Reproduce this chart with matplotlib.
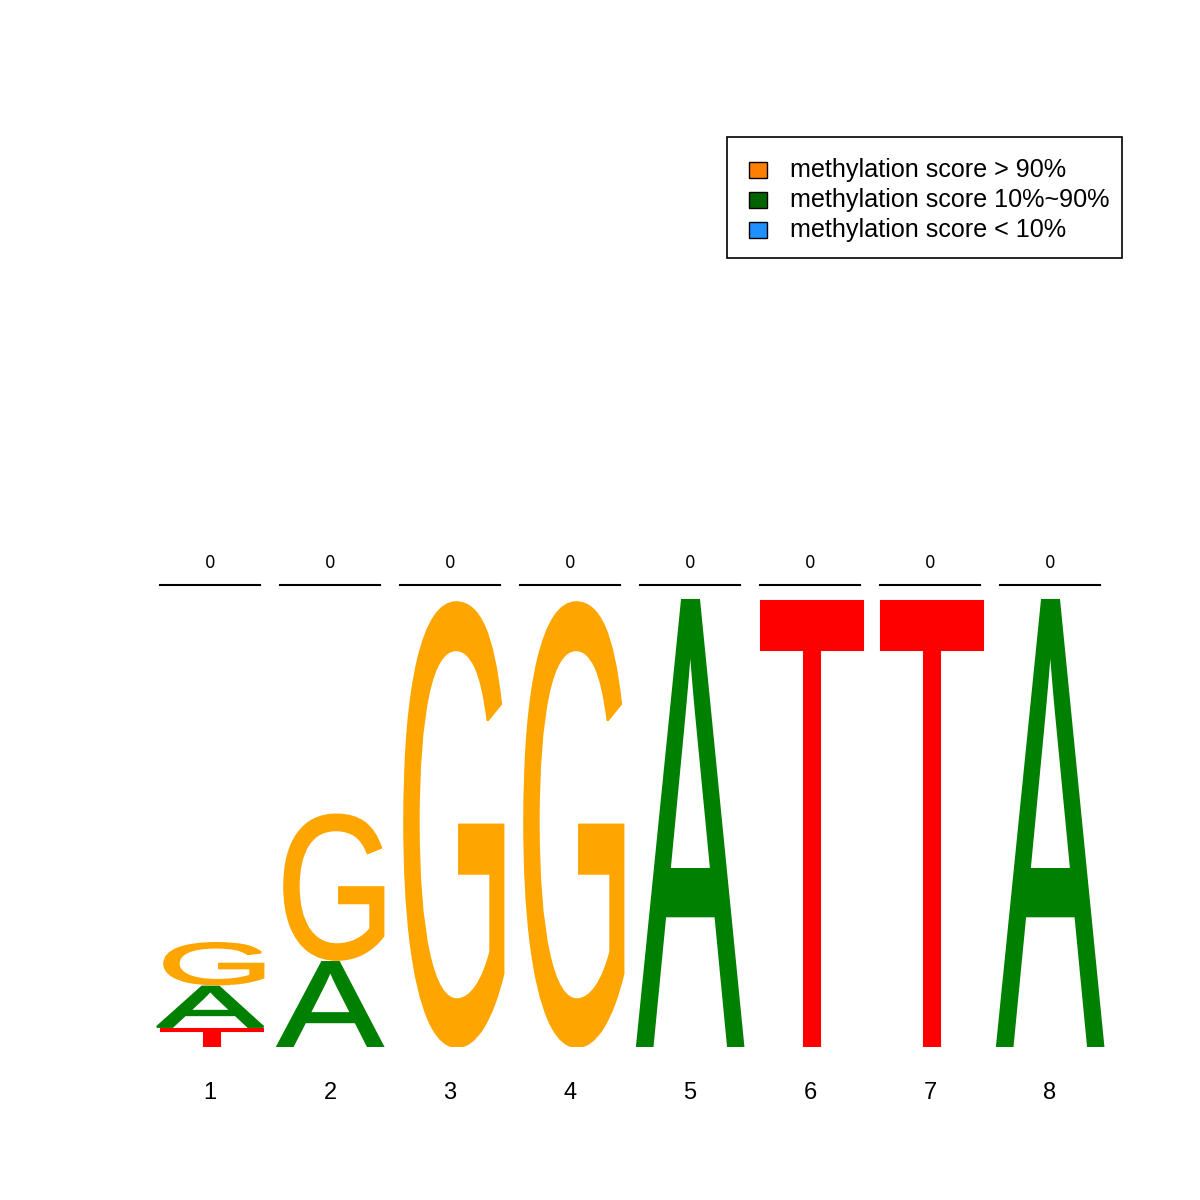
import matplotlib
matplotlib.use("Agg")
import matplotlib.pyplot as plt
from matplotlib.textpath import TextPath
from matplotlib.patches import PathPatch, Rectangle
from matplotlib.font_manager import FontProperties
from matplotlib.transforms import Affine2D

positions = [1, 2, 3, 4, 5, 6, 7, 8]
# stacks bottom -> top: (letter, height in bits)
stacks = [
    [("T", 0.08), ("A", 0.18), ("G", 0.185)],
    [("A", 0.38), ("G", 0.65)],
    [("G", 1.99)],
    [("G", 1.99)],
    [("A", 2.0)],
    [("T", 1.995)],
    [("T", 1.995)],
    [("A", 2.0)],
]
top_labels = ["0", "0", "0", "0", "0", "0", "0", "0"]
letter_colors = {"A": "#008000", "G": "#FFA500", "T": "#FF0000", "C": "#0000FF"}
legend_labels = ["methylation score > 90%", "methylation score 10%~90%", "methylation score < 10%"]
legend_colors = ["#FF7F00", "#006400", "#1E90FF"]

plt.rcParams["font.family"] = ["Liberation Sans", "DejaVu Sans"]

fig = plt.figure(figsize=(12, 12), dpi=100)
W = H = 1200.0
px_per_bit = 223.5
y0_px = 1047.0
top_px = 100.0
ax = fig.add_axes([150 / W, 1 - y0_px / H, 960 / W, (y0_px - top_px) / H])
ax.set_xlim(0.5, 8.5)
ax.set_ylim(0, (y0_px - top_px) / px_per_bit)
ax.axis("off")

fp = FontProperties(family="Liberation Sans", weight="normal")

def draw_letter(ch, x, y, w, h, color):
    tp = TextPath((0, 0), ch, size=1, prop=fp)
    verts = tp.vertices
    xmin, ymin = verts.min(axis=0)
    xmax, ymax = verts.max(axis=0)
    tr = Affine2D().translate(-xmin, -ymin).scale(w / (xmax - xmin), h / (ymax - ymin)).translate(x, y)
    path = tr.transform_path(tp)
    ax.add_patch(PathPatch(path, facecolor=color, edgecolor=color, lw=1.5, joinstyle="miter"))

lw_units = 0.89
for i, (pos, stack) in enumerate(zip(positions, stacks)):
    y = 0.0
    for j, (ch, h) in enumerate(stack):
        draw_letter(ch, pos - lw_units / 2, y, lw_units, h, letter_colors[ch])
        y += h + (0.01 if len(stack) > 1 else 0)
    ybar = (y0_px - 585) / px_per_bit
    ax.plot([pos - 0.42, pos + 0.42], [ybar, ybar], color="black", lw=1.5, clip_on=False)
    ax.text(pos, (y0_px - 563) / px_per_bit, top_labels[i], ha="center", va="center",
            fontsize=12, family="DejaVu Sans")
    ax.text(pos, -(1093 - y0_px) / px_per_bit, str(pos), ha="center", va="center", fontsize=17)

# legend drawn in figure pixel coordinates
fig.add_artist(Rectangle((727 / W, 1 - 258 / H), (1122 - 727) / W, (258 - 137) / H,
                         transform=fig.transFigure, facecolor="white", edgecolor="black", lw=1.2))
for k, (lab, col) in enumerate(zip(legend_labels, legend_colors)):
    yc = 170 + 30 * k
    fig.add_artist(Rectangle((749 / W, 1 - (yc + 8) / H), 18 / W, 16 / H, transform=fig.transFigure,
                             facecolor=col, edgecolor="black", lw=1))
    fig.text(790 / W, 1 - yc / H, lab, ha="left", va="center", fontsize=18.1)

fig.savefig("out.png", dpi=100)
